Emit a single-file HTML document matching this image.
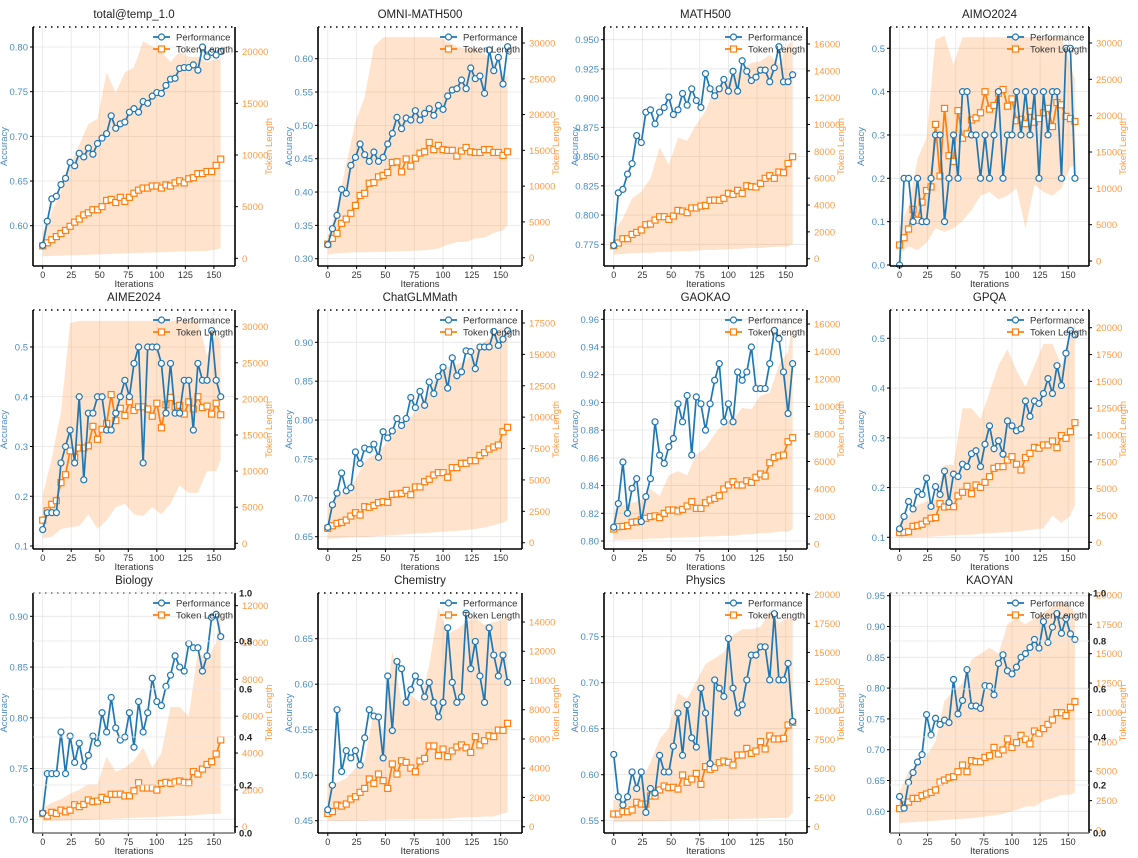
<!DOCTYPE html>
<html><head><meta charset="utf-8"><title>Training curves</title>
<style>
html,body{margin:0;padding:0;background:#fff;}
svg{display:block;font-family:"Liberation Sans","DejaVu Sans",sans-serif;}
</style></head>
<body>
<svg id="fig" width="1138" height="858" viewBox="0 0 1138 858"></svg>
<script>
const iters=[0,4,8,12,16,20,24,28,32,36,40,44,48,52,56,60,64,68,72,76,80,84,88,92,96,100,104,108,112,116,120,124,128,132,136,140,144,148,152,156];
const bandIters=[0,8,16,24,32,40,48,56,64,72,80,88,96,104,112,120,128,136,144,152,156];
const xTicks=[0,25,50,75,100,125,150];

const perf_total=[0.578,0.605,0.630,0.633,0.646,0.653,0.671,0.667,0.681,0.677,0.687,0.680,0.692,0.698,0.703,0.723,0.709,0.714,0.716,0.727,0.731,0.727,0.739,0.737,0.745,0.749,0.748,0.757,0.764,0.765,0.776,0.777,0.777,0.780,0.774,0.800,0.789,0.794,0.791,0.795];
const tok_total=[1200,1500,1800,2100,2400,2700,3100,3500,3800,4200,4400,4700,4700,5000,5600,5700,5400,5900,5500,5900,6300,6600,6800,6800,7000,7000,6800,7100,7000,7300,7500,7300,7700,7800,8200,8200,8400,8400,9000,9600];
const hi_total=[2500,4500,6500,9000,11000,13000,13500,18000,16000,18000,18500,21000,20500,20000,19000,20000,19500,19500,19000,19300,19300];
const lo_total=[200,230,260,290,320,350,380,410,440,470,500,530,560,590,620,650,680,700,720,850,1000];

const perf_omni=[0.321,0.345,0.365,0.404,0.398,0.44,0.452,0.472,0.456,0.446,0.46,0.446,0.452,0.472,0.488,0.512,0.495,0.511,0.508,0.522,0.508,0.518,0.525,0.515,0.53,0.524,0.544,0.553,0.555,0.568,0.555,0.586,0.57,0.574,0.548,0.613,0.582,0.602,0.562,0.618];
const tok_omni=[1900,2700,3400,4800,5400,6200,7300,8700,9000,10400,10500,11300,11500,11900,13300,13400,12000,13800,12800,13900,14600,14800,16100,15100,15700,15100,15000,15000,14200,14900,15400,14800,14700,14700,15100,15100,14700,14700,14300,14800];
const hi_omni=[3000,7000,13000,19000,22500,29500,30800,30800,30800,30800,30800,30800,30800,30200,29500,29200,29300,28500,27500,25000,25500];
const lo_omni=[400,600,700,750,750,800,800,850,900,950,1000,1100,1300,1800,2200,2200,2700,2800,3500,3800,4600];

const perf_math=[0.774,0.819,0.822,0.835,0.844,0.868,0.862,0.888,0.890,0.878,0.888,0.892,0.901,0.886,0.890,0.904,0.894,0.908,0.898,0.892,0.921,0.908,0.902,0.908,0.916,0.906,0.923,0.906,0.932,0.923,0.915,0.918,0.924,0.924,0.914,0.926,0.944,0.914,0.914,0.920];
const tok_math=[970,1170,1490,1490,1810,1960,2140,2530,2580,2880,3130,3130,2930,3180,3600,3550,3430,3780,3780,3920,3970,4350,4370,4350,4500,4870,4790,5090,4870,5440,5370,5340,5610,5990,6190,5990,6460,6410,7100,7600];
const hi_math=[2000,3000,4500,5000,6000,8300,7000,9000,8800,10000,11000,12800,13000,13500,14200,14600,14700,15200,14500,16000,16200];
const lo_math=[300,350,400,450,450,500,500,550,550,600,650,650,700,700,750,800,800,850,900,900,1100];

const perf_aimo=[0.0,0.2,0.2,0.1,0.2,0.1,0.1,0.2,0.3,0.3,0.1,0.2,0.3,0.2,0.4,0.4,0.3,0.3,0.2,0.3,0.2,0.3,0.4,0.2,0.3,0.3,0.4,0.3,0.4,0.3,0.4,0.2,0.4,0.3,0.4,0.4,0.2,0.5,0.5,0.2];
const tok_aimo=[2200,3200,4400,7100,5600,8100,9700,10200,18800,11700,21000,14500,13700,20700,16900,17500,19400,19700,20400,23300,20900,21400,23100,23600,21300,22300,19300,19500,18900,20600,19100,19600,20400,21000,18500,21800,21500,19900,19600,19200];
const hi_aimo=[4700,7500,14000,17000,30500,31000,27000,30800,30800,30800,30800,30800,30800,30800,30800,30800,30800,30800,30800,27000,25000];
const lo_aimo=[1000,2000,1500,2500,4500,4000,4500,5500,7000,9000,9500,8500,9000,10000,4500,10500,9500,9000,10000,13000,13000];

const perf_aime=[0.133,0.167,0.167,0.167,0.267,0.3,0.333,0.267,0.4,0.233,0.367,0.367,0.4,0.4,0.333,0.333,0.367,0.4,0.433,0.4,0.467,0.5,0.267,0.5,0.5,0.5,0.467,0.367,0.467,0.367,0.367,0.433,0.433,0.333,0.467,0.433,0.433,0.533,0.433,0.4];
const tok_aime=[3200,4500,5400,5900,8400,9500,12800,11900,13200,13200,13500,16200,14400,15800,16600,20600,17000,18700,17700,19600,18400,18900,18900,18600,17600,19400,16000,19200,20200,18900,19100,17900,19600,18600,20300,18800,19000,17900,19400,17800];
const hi_aime=[6700,11800,18200,30500,30800,30800,30800,30800,30800,30800,30800,30800,30800,30800,30800,30800,30800,30800,26000,29000,28000];
const lo_aime=[700,900,2000,2200,2400,4000,2000,3200,5000,5500,4000,3800,5000,4000,5500,8000,7000,7000,10000,10000,11500];

const perf_glm=[0.662,0.691,0.706,0.732,0.709,0.713,0.759,0.744,0.764,0.762,0.769,0.752,0.785,0.777,0.786,0.802,0.793,0.802,0.829,0.816,0.837,0.819,0.849,0.834,0.856,0.868,0.841,0.880,0.857,0.862,0.889,0.888,0.866,0.894,0.894,0.894,0.914,0.896,0.904,0.915];
const tok_glm=[1140,1350,1540,1620,1800,2120,2390,2200,2870,2820,2970,3190,3270,3210,3850,3880,3930,4170,3820,4440,4440,4860,5050,5390,5580,5580,5210,5980,5980,6320,6320,6530,6530,6960,7170,7460,7620,7780,8840,9190];
const hi_glm=[2800,3700,4000,5000,6500,7000,7600,8500,9700,10000,11000,12000,13500,14000,14200,14500,15500,16000,16500,17200,17000];
const lo_glm=[300,350,400,450,450,500,550,600,650,700,750,800,850,900,950,1000,1100,1200,1400,1600,1800];

const perf_gaokao=[0.810,0.827,0.857,0.820,0.838,0.845,0.814,0.832,0.845,0.886,0.862,0.856,0.868,0.874,0.899,0.886,0.905,0.862,0.904,0.899,0.880,0.899,0.916,0.928,0.886,0.899,0.886,0.922,0.916,0.922,0.940,0.910,0.910,0.910,0.928,0.952,0.946,0.922,0.892,0.928];
const tok_gaokao=[1090,1260,1280,1330,1580,1620,1750,1870,1990,2040,1920,2230,2470,2470,2400,2520,2760,3080,2590,2590,3000,3200,3320,3510,4000,4290,4530,4290,4290,4600,4480,4850,5090,4940,5910,6280,6400,6470,7440,7730];
const hi_gaokao=[2500,2800,3000,3200,4000,3500,5000,5300,5000,6500,7000,8000,8800,9000,9900,9800,10800,11000,13000,14000,16000];
const lo_gaokao=[300,300,350,350,400,400,450,450,500,500,550,550,600,600,700,700,800,800,900,900,1100];

const perf_gpqa=[0.117,0.142,0.172,0.157,0.192,0.186,0.219,0.162,0.202,0.186,0.233,0.170,0.227,0.222,0.247,0.242,0.268,0.274,0.242,0.287,0.324,0.278,0.294,0.267,0.334,0.324,0.314,0.318,0.374,0.343,0.374,0.369,0.389,0.419,0.389,0.445,0.405,0.47,0.516,0.507];
const tok_gpqa=[900,930,990,1490,1550,1680,1990,2240,2300,3600,3290,3350,3320,4320,4660,5220,4530,5340,5120,5590,6120,6900,7050,7050,7670,7980,7270,6740,7890,8290,8850,8760,9070,9070,9440,8820,9940,9690,10310,11150];
const hi_gpqa=[1800,2500,3500,3800,4000,7200,7200,12500,12500,11500,14000,16500,18000,16000,14500,16500,18500,18500,16500,19000,20500];
const lo_gpqa=[400,450,500,500,550,600,650,700,700,800,850,900,950,1000,1100,1200,1300,2500,1800,2500,3500];

const perf_bio=[0.706,0.745,0.745,0.745,0.786,0.745,0.782,0.756,0.775,0.752,0.763,0.782,0.775,0.805,0.786,0.820,0.790,0.778,0.781,0.805,0.771,0.816,0.786,0.805,0.839,0.816,0.812,0.831,0.842,0.861,0.850,0.846,0.873,0.869,0.869,0.846,0.861,0.899,0.902,0.880];
const tok_bio=[710,580,780,720,900,810,900,1190,1090,1210,1450,1360,1390,1590,1480,1760,1760,1770,1670,1680,1950,2390,2100,2100,2100,1990,2350,2410,2350,2430,2480,2410,2390,2990,2860,3130,3380,3530,3950,4710];
const hi_bio=[1000,1300,1500,1800,2000,2300,2300,3800,3000,3200,3600,4300,3200,4000,6500,6500,6000,9500,9000,10000,12000];
const lo_bio=[300,300,320,340,360,380,400,420,440,460,480,500,520,540,560,580,600,640,680,700,720];

const perf_chem=[0.462,0.489,0.572,0.504,0.527,0.519,0.527,0.511,0.541,0.572,0.565,0.564,0.519,0.609,0.549,0.625,0.617,0.580,0.594,0.609,0.602,0.586,0.602,0.580,0.564,0.580,0.662,0.602,0.580,0.586,0.678,0.617,0.647,0.609,0.580,0.662,0.632,0.609,0.632,0.602];
const tok_chem=[910,1030,1480,1410,1550,1890,2050,2350,2620,3260,2960,3600,3150,2620,4290,3600,4510,4400,4010,3760,4490,4670,5520,5520,4860,5310,4790,5180,5450,5590,5400,5080,6160,5590,5880,6220,6160,6610,6590,7070];
const hi_chem=[3000,3000,3300,4000,4500,8000,6500,12000,8500,9000,8500,11000,15000,13200,13500,14000,14300,13800,14000,14200,14500];
const lo_chem=[400,400,400,420,420,450,450,500,500,500,520,520,550,550,600,650,650,700,700,900,1000];

const perf_phys=[0.622,0.576,0.567,0.576,0.603,0.585,0.603,0.559,0.585,0.580,0.621,0.603,0.603,0.631,0.667,0.621,0.676,0.640,0.630,0.694,0.667,0.612,0.703,0.694,0.685,0.748,0.694,0.667,0.676,0.703,0.730,0.730,0.739,0.739,0.703,0.775,0.703,0.703,0.721,0.658];
const tok_phys=[1090,1090,1290,1290,1440,2100,1950,1950,2640,2640,3160,3500,3360,3390,3240,4450,3820,4100,4590,3640,5170,4940,5110,5510,5650,5540,5310,6170,6170,6740,6310,6510,7320,6690,7810,7550,7550,7610,8750,8980];
const hi_phys=[2300,2200,3500,4000,5500,7500,8500,11500,11000,12500,14000,14500,15000,16500,17000,17000,17200,18500,17500,18000,18000];
const lo_phys=[400,420,440,460,480,500,520,540,560,580,600,620,640,660,680,700,720,740,760,780,1200];

const perf_kaoyan=[0.624,0.605,0.647,0.663,0.680,0.692,0.757,0.724,0.751,0.741,0.748,0.744,0.814,0.758,0.780,0.830,0.771,0.771,0.767,0.804,0.803,0.789,0.840,0.854,0.828,0.823,0.834,0.850,0.856,0.866,0.879,0.865,0.908,0.874,0.899,0.921,0.889,0.913,0.888,0.879];
const tok_kaoyan=[1820,2130,2380,2690,2690,2920,3060,3200,3400,4080,4250,4450,4540,4960,5530,4960,5900,5810,5810,6180,6320,7030,6470,6810,7750,7030,7430,8050,7710,7320,8420,8220,8620,8990,9360,9980,9980,9730,10440,10920];
const hi_kaoyan=[3200,5000,5500,6300,7500,11000,11800,12500,14500,15000,15500,15000,17500,18000,17500,18000,18500,19000,19500,19000,18500];
const lo_kaoyan=[600,650,700,750,800,850,900,950,1000,1100,1200,1300,1500,1700,2000,2000,2500,2700,3000,3000,3200];

const titles=["total@temp_1.0","OMNI-MATH500","MATH500","AIMO2024","AIME2024","ChatGLMMath","GAOKAO","GPQA","Biology","Chemistry","Physics","KAOYAN"];
const perfSeries=[perf_total,perf_omni,perf_math,perf_aimo,perf_aime,perf_glm,perf_gaokao,perf_gpqa,perf_bio,perf_chem,perf_phys,perf_kaoyan];
const tokSeries=[tok_total,tok_omni,tok_math,tok_aimo,tok_aime,tok_glm,tok_gaokao,tok_gpqa,tok_bio,tok_chem,tok_phys,tok_kaoyan];
const hiSeries=[hi_total,hi_omni,hi_math,hi_aimo,hi_aime,hi_glm,hi_gaokao,hi_gpqa,hi_bio,hi_chem,hi_phys,hi_kaoyan];
const loSeries=[lo_total,lo_omni,lo_math,lo_aimo,lo_aime,lo_glm,lo_gaokao,lo_gpqa,lo_bio,lo_chem,lo_phys,lo_kaoyan];
const leftTicks=[[0.60,0.65,0.70,0.75,0.80],[0.30,0.35,0.40,0.45,0.50,0.55,0.60],[0.775,0.800,0.825,0.850,0.875,0.900,0.925,0.950],[0,0.1,0.2,0.3,0.4,0.5],
 [0.1,0.2,0.3,0.4,0.5],[0.65,0.70,0.75,0.80,0.85,0.90],[0.80,0.82,0.84,0.86,0.88,0.90,0.92,0.94,0.96],[0.1,0.2,0.3,0.4,0.5],
 [0.70,0.75,0.80,0.85,0.90],[0.45,0.50,0.55,0.60,0.65],[0.55,0.60,0.65,0.70,0.75],[0.60,0.65,0.70,0.75,0.80,0.85,0.90,0.95]];
const leftDec=[2,2,3,1,1,2,2,1,2,2,2,2];
const rightTicks=[[0,5000,10000,15000,20000],[0,5000,10000,15000,20000,25000,30000],[0,2000,4000,6000,8000,10000,12000,14000,16000],[0,5000,10000,15000,20000,25000,30000],
 [0,5000,10000,15000,20000,25000,30000],[0,2500,5000,7500,10000,12500,15000,17500],[0,2000,4000,6000,8000,10000,12000,14000,16000],[0,2500,5000,7500,10000,12500,15000,17500,20000],
 [0,2000,4000,6000,8000,10000,12000],[0,2000,4000,6000,8000,10000,12000,14000],[0,2500,5000,7500,10000,12500,15000,17500,20000],[0,2500,5000,7500,10000,12500,15000,17500,20000]];
const extraTicks=[0.0,0.2,0.4,0.6,0.8,1.0];

// layout / calibration (pixels)
const colL=[33,318,604,890], colR=[235,522,807,1089];
const rowT=[27,310,593], rowB=[266,549,833];
const lCal=[[0.80,47,0.60,225.7],[0.60,58.7,0.30,258.7],[0.950,39.7,0.775,244.3],[0.5,48.3,0.0,265],
 [0.5,347,0.1,546],[0.90,342.3,0.65,536.7],[0.96,319.3,0.80,541],[0.5,338.3,0.1,537.3],
 [0.90,616.3,0.70,819.3],[0.65,638.7,0.45,820.7],[0.75,636.7,0.55,820.7],[0.95,595.7,0.60,811.3]];
const rCal=[[20000,51.7,0,258.3],[30000,43,0,257.7],[16000,44,0,258.7],[30000,43,0,261],
 [30000,326.7,0,543.3],[17500,323,0,542.7],[16000,324,0,544],[20000,327.7,0,542.3],
 [12000,605.7,0,826.7],[14000,622,0,826.7],[20000,594.3,0,826.7],[17500,624.3,0,830]];

const NS="http://www.w3.org/2000/svg";
const svg=document.getElementById('fig');
function mk(tag,attrs,parent){const e=document.createElementNS(NS,tag);for(const k in attrs)e.setAttribute(k,attrs[k]);(parent||svg).appendChild(e);return e;}
const BLUE="#1f77b4", ORANGE="#ff7f0e";

for(let i=0;i<12;i++){
  const c=i%4,r=Math.floor(i/4);
  const L=colL[c],R=colR[c],T=rowT[r],B=rowB[r];
  const g=mk('g',{});
  
  
  const x=v=>L+(v+8.5)/177*(R-L);
  const lc=lCal[i], rc=rCal[i];
  const yL=v=>lc[1]+(v-lc[0])*(lc[3]-lc[1])/(lc[2]-lc[0]);
  const yR=v=>rc[1]+(v-rc[0])*(rc[3]-rc[1])/(rc[2]-rc[0]);
  const cid='clip'+i;
  const cp=mk('clipPath',{id:cid},g);mk('rect',{x:L,y:T,width:R-L,height:B-T},cp);
  xTicks.forEach(t=>{const gl=mk('line',{x1:x(t),x2:x(t),y1:T,y2:B,stroke:'#e6e6e6','stroke-width':0.8},g);
    });
  leftTicks[i].forEach(t=>{const gl=mk('line',{x1:L,x2:R,y1:yL(t),y2:yL(t),stroke:'#e6e6e6','stroke-width':0.8},g);
    });
  let d='';
  bandIters.forEach((it,k)=>{d+=(k?'L':'M')+x(it).toFixed(1)+','+yR(hiSeries[i][k]).toFixed(1);});
  for(let k=bandIters.length-1;k>=0;k--)d+='L'+x(bandIters[k]).toFixed(1)+','+yR(loSeries[i][k]).toFixed(1);
  const band=mk('path',{d:d+'Z',fill:'rgba(255,140,40,0.24)',stroke:'none','clip-path':'url(#'+cid+')'},g);
  
  
  const tp=tokSeries[i].map((v,k)=>x(iters[k]).toFixed(1)+','+yR(v).toFixed(1)).join(' ');
  const tl=mk('polyline',{points:tp,fill:'none',stroke:ORANGE,'stroke-width':1.7},g);
  
  
  tokSeries[i].forEach((v,k)=>{const m=mk('rect',{x:x(iters[k])-3,y:yR(v)-3,width:6,height:6,fill:'#fff',stroke:ORANGE,'stroke-width':1.2},g);
    
    });
  const pp=perfSeries[i].map((v,k)=>x(iters[k]).toFixed(1)+','+yL(v).toFixed(1)).join(' ');
  const pl=mk('polyline',{points:pp,fill:'none',stroke:BLUE,'stroke-width':1.7,'clip-path':'url(#'+cid+')'},g);
  
  
  perfSeries[i].forEach((v,k)=>{const m=mk('circle',{cx:x(iters[k]),cy:yL(v),r:3,fill:'#fff',stroke:BLUE,'stroke-width':1.2},g);
    
    });
  mk('line',{x1:L,x2:L,y1:T,y2:B,stroke:'#000','stroke-width':1.6},g);
  mk('line',{x1:R,x2:R,y1:T,y2:B,stroke:'#000','stroke-width':1.6},g);
  mk('line',{x1:L,x2:R,y1:B,y2:B,stroke:'#000','stroke-width':1.6},g);
  mk('line',{x1:L,x2:R,y1:T,y2:T,stroke:'#000','stroke-width':1.6,'stroke-dasharray':'1.5,4.5'},g);
  xTicks.forEach(t=>{mk('line',{x1:x(t),x2:x(t),y1:B,y2:B+3,stroke:'#000'},g);
    const tx=mk('text',{x:x(t),y:B+12,'font-size':9,'text-anchor':'middle',fill:'#333'},g);tx.textContent=t;
    });
  const xl=mk('text',{x:(L+R)/2,y:B+21,'font-size':9.5,'text-anchor':'middle',fill:'#333'},g);xl.textContent='Iterations';
  
  leftTicks[i].forEach(t=>{mk('line',{x1:L-3,x2:L,y1:yL(t),y2:yL(t),stroke:'#000'},g);
    const tx=mk('text',{x:L-5,y:yL(t)+3.5,'font-size':9.5,'text-anchor':'end',fill:'#4a8cc4'},g);tx.textContent=t.toFixed(leftDec[i]);
    });
  rightTicks[i].forEach(t=>{mk('line',{x1:R,x2:R+3,y1:yR(t),y2:yR(t),stroke:'#000'},g);
    const tx=mk('text',{x:R+7,y:yR(t)+3.5,'font-size':9.5,'text-anchor':'start',fill:'#ff9a40'},g);tx.textContent=t;
    });
  if(i===8||i===11){
    extraTicks.forEach(t=>{const yy=B-t*(B-T);
      mk('line',{x1:L,x2:R,y1:yy,y2:yy,stroke:'#e6e6e6','stroke-width':0.8},g);
      const tx=mk('text',{x:R+4,y:yy+3.5,'font-size':9.5,'font-weight':'bold',fill:'#222'},g);tx.textContent=t.toFixed(1);
      });
  }
  const ya=mk('text',{x:L-26,y:(T+B)/2,'font-size':9.5,'text-anchor':'middle',fill:'#4a8cc4',transform:'rotate(-90 '+(L-26)+' '+((T+B)/2)+')'},g);ya.textContent='Accuracy';
  
  const yr=mk('text',{x:R+37,y:(T+B)/2,'font-size':9.5,'text-anchor':'middle',fill:'#ff9a40',transform:'rotate(-90 '+(R+37)+' '+((T+B)/2)+')'},g);yr.textContent='Token Length';
  
  const ti=mk('text',{x:(L+R)/2,y:T-9,'font-size':11.5,'text-anchor':'middle',fill:'#222'},g);ti.textContent=titles[i];
  
  const lg=mk('g',{},g);
  
  
  const ly1=T+10, ly2=T+22, lx=R-82;
  mk('line',{x1:lx,x2:lx+17,y1:ly1,y2:ly1,stroke:BLUE,'stroke-width':1.7},lg);
  mk('circle',{cx:lx+8.5,cy:ly1,r:3,fill:'#fff',stroke:BLUE,'stroke-width':1.2},lg);
  const t1=mk('text',{x:lx+23,y:ly1+3.5,'font-size':9.5,fill:'#333'},lg);t1.textContent='Performance';
  
  mk('line',{x1:lx,x2:lx+17,y1:ly2,y2:ly2,stroke:ORANGE,'stroke-width':1.7},lg);
  mk('rect',{x:lx+5.5,y:ly2-3,width:6,height:6,fill:'#fff',stroke:ORANGE,'stroke-width':1.2},lg);
  const t2=mk('text',{x:lx+23,y:ly2+3.5,'font-size':9.5,fill:'#333'},lg);t2.textContent='Token Length';
  
}
</script>
</body></html>
